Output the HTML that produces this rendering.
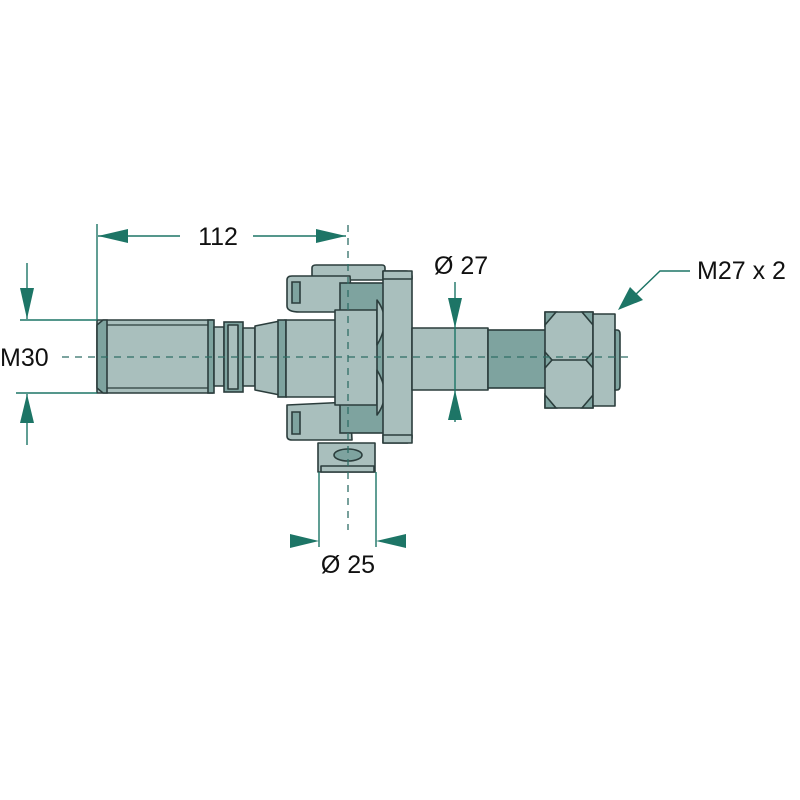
<!DOCTYPE html>
<html><head><style>html,body{margin:0;padding:0;background:#fff}svg{display:block}</style></head>
<body>
<svg width="800" height="800" viewBox="0 0 800 800" xmlns="http://www.w3.org/2000/svg">
<defs>
<style>
.p{fill:#a9bfbd;stroke:#2b3d3c;stroke-width:1.6;stroke-linejoin:round}
.d{fill:#7ea39f;stroke:#2b3d3c;stroke-width:1.6}
.g{stroke:#1d7566;stroke-width:1.4;fill:none}
.a{fill:#1d7566}
.t{font-family:"Liberation Sans",sans-serif;font-size:25px;fill:#111}
.c{stroke:#2f6e66;stroke-width:1.3;stroke-dasharray:7 6;fill:none}
</style>
</defs>
<!-- threaded shank -->
<rect class="p" x="97" y="320" width="116" height="73"/>
<polygon class="d" points="97,325 103,320 107,320 107,393 103,393 97,388"/>
<line x1="107" y1="325" x2="213" y2="325" stroke="#2b3d3c" stroke-width="1.2"/>
<line x1="107" y1="388" x2="213" y2="388" stroke="#2b3d3c" stroke-width="1.2"/>
<rect class="d" x="208" y="320" width="6" height="73"/>
<rect class="p" x="214" y="327" width="10" height="59"/>
<rect class="d" x="224" y="322" width="19" height="70"/>
<rect class="p" x="228" y="325" width="10" height="64"/>
<rect class="p" x="243" y="328" width="12" height="58"/>
<polygon class="p" points="255,326 285,320 285,396 255,390"/>
<rect class="d" x="278" y="320" width="8" height="77"/>
<rect class="p" x="286" y="320" width="54" height="77"/>
<!-- top bar -->
<path class="p" d="M312,275 L312,268 Q312,265 316,265 L382,265 Q385,265 385,268 L385,280 L312,280Z"/>
<!-- forks -->
<path class="p" d="M287,280 Q287,276 292,276 L350,276 L352,312 L300,312 Q287,312 287,306Z"/>
<path class="d" d="M292,282 L300,282 L300,303 L292,303Z"/>
<path class="p" d="M287,405 L350,402 L352,440 L292,440 Q287,440 287,436Z"/>
<path class="d" d="M292,412 L300,412 L300,434 L292,434Z"/>
<!-- center block & flange -->
<rect class="d" x="340" y="283" width="45" height="150"/>
<rect class="p" x="335" y="310" width="42" height="95"/>
<path class="p" d="M377,300 Q392,320 377,345 Z"/>
<path class="p" d="M377,370 Q392,395 377,415 Z"/>
<path class="p" d="M383,271 L406,271 Q412,271 412,277 L412,437 Q412,443 406,443 L383,443Z"/>
<rect class="p" x="383" y="271" width="29" height="8"/>
<rect class="p" x="383" y="435" width="29" height="8"/>
<!-- lug -->
<rect class="p" x="318" y="443" width="57" height="29"/>
<rect class="p" x="321" y="466" width="53" height="6"/>
<ellipse cx="348" cy="455" rx="14" ry="6" class="d"/>
<!-- shaft -->
<rect class="p" x="412" y="328" width="76" height="62"/>
<rect class="d" x="488" y="330" width="58" height="58"/>
<!-- nut -->
<rect class="p" x="545" y="312" width="48" height="96"/>
<line x1="545" y1="360" x2="593" y2="360" stroke="#2b3d3c" stroke-width="1.6"/>
<polygon class="d" points="545,312 556,312 545,325"/>
<polygon class="d" points="593,312 582,312 593,325"/>
<polygon class="d" points="545,408 556,408 545,395"/>
<polygon class="d" points="593,408 582,408 593,395"/>
<polygon class="d" points="545,352 552,360 545,368"/>
<polygon class="d" points="593,352 586,360 593,368"/>
<rect class="p" x="593" y="314" width="22" height="92"/>
<path class="d" d="M615,330 L617,330 Q620,330 620,334 L620,386 Q620,390 617,390 L615,390Z"/>
<!-- center lines -->
<line class="c" x1="62" y1="357" x2="628" y2="357"/>
<line class="c" x1="348" y1="225" x2="348" y2="530"/>
<!-- 112 dimension -->
<line class="g" x1="97" y1="224" x2="97" y2="320"/>
<line class="g" x1="98" y1="236" x2="180" y2="236"/>
<line class="g" x1="253" y1="236" x2="346" y2="236"/>
<polygon class="a" points="98,236 128,229 128,243"/>
<polygon class="a" points="346,236 316,229 316,243"/>
<text class="t" x="218" y="245" text-anchor="middle">112</text>
<!-- M30 -->
<line class="g" x1="20" y1="320" x2="97" y2="320"/>
<line class="g" x1="16" y1="393" x2="97" y2="393"/>
<line class="g" x1="27" y1="263" x2="27" y2="319"/>
<line class="g" x1="27" y1="394" x2="27" y2="445"/>
<polygon class="a" points="27,319 20,288 34,288"/>
<polygon class="a" points="27,394 20,423 34,423"/>
<text class="t" x="0" y="366">M30</text>
<!-- Ø27 -->
<line class="g" x1="455" y1="282" x2="455" y2="422"/>
<polygon class="a" points="455,328 448,298 462,298"/>
<polygon class="a" points="455,390 448,420 462,420"/>
<text class="t" x="434" y="274">Ø 27</text>
<!-- Ø25 -->
<line class="g" x1="319" y1="472" x2="319" y2="547"/>
<line class="g" x1="376" y1="472" x2="376" y2="547"/>
<polygon class="a" points="319,541 290,534 290,548"/>
<polygon class="a" points="376,541 406,534 406,548"/>
<text class="t" x="348" y="573" text-anchor="middle">Ø 25</text>
<!-- M27 -->
<polyline class="g" points="632,298 660,271 690,271"/>
<polygon class="a" points="618,310 630,287 643,300"/>
<text class="t" x="697" y="279">M27 x 2</text>
</svg>
</body></html>
